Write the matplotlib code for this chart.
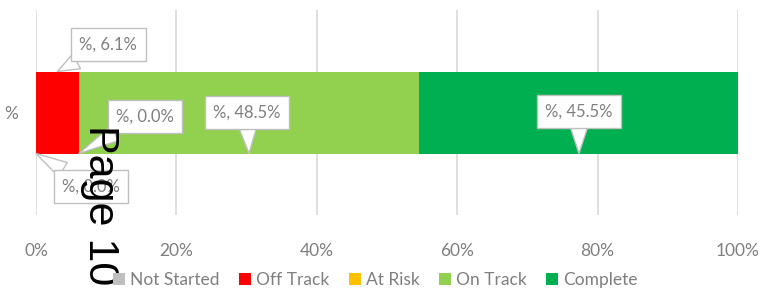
import matplotlib
matplotlib.use("Agg")
import matplotlib.pyplot as plt
import numpy as np

categories = ["%"]
series_names = ["Not Started", "Off Track", "At Risk", "On Track", "Complete"]
series_values = [0.0, 6.1, 0.0, 48.5, 45.5]
series_colors = ["#BFBFBF", "#FF0000", "#FFC000", "#92D050", "#00B050"]
x_ticks = [0, 20, 40, 60, 80, 100]
x_tick_labels = ["0%", "20%", "40%", "60%", "80%", "100%"]

plt.rcParams['font.family'] = ['Lato', 'DejaVu Sans']
grey_txt = "#7F7F7F"

fig = plt.figure(figsize=(7.66, 2.93), dpi=100)
ax = fig.add_axes([36/766, 1-215/293, (738-36)/766, (215-10)/293])

bar_h = 0.4
left = 0.0
lefts = []
for name, v, c in zip(series_names, series_values, series_colors):
    ax.barh(0, v, left=left, height=bar_h, color=c, label=name, zorder=2)
    lefts.append(left)
    left += v

ax.set_xlim(0, 100)
ax.set_ylim(-0.5, 0.5)
ax.set_xticks(x_ticks)
ax.set_xticklabels(x_tick_labels)
ax.set_yticks([0])
ax.set_yticklabels(categories)
ax.tick_params(axis='x', length=0, pad=20, labelsize=12.5, labelcolor=grey_txt)
ax.tick_params(axis='y', length=0, pad=13, labelsize=12.5, labelcolor=grey_txt)
for s in ax.spines.values():
    s.set_visible(False)
ax.grid(axis='x', color='#D9D9D9', linewidth=1.2, zorder=0)
ax.set_axisbelow(True)

# callouts: (series index, anchor position along bar: 'start'/'mid', bar edge 'top'/'bottom', offset px)
callouts = [
    (0, 'start', 'bottom', (55, -33)),
    (1, 'mid', 'top', (51, 27)),
    (2, 'start', 'bottom', (66, 37)),
    (3, 'mid', 'bottom', (-2, 41)),
    (4, 'mid', 'bottom', (0, 42)),
]
for idx, where, edge, off in callouts:
    v = series_values[idx]
    x = lefts[idx] + (v / 2 if where == 'mid' else 0)
    y = bar_h / 2 if edge == 'top' else -bar_h / 2
    ax.annotate(f"%, {v:.1f}%", xy=(x, y), xytext=off, textcoords='offset pixels',
                ha='center', va='center', fontsize=12, color=grey_txt, zorder=5,
                bbox=dict(boxstyle='square,pad=0.5', fc='white', ec='#BFBFBF', lw=1),
                arrowprops=dict(arrowstyle='wedge,tail_width=1.0', fc='white', ec='#BFBFBF',
                                lw=1, shrinkA=0, shrinkB=0))

leg = fig.legend(loc='center', bbox_to_anchor=(0.49, 1-280/293), ncol=5, frameon=False,
                 fontsize=12.5, handlelength=0.7, handleheight=0.7, handletextpad=0.3,
                 columnspacing=1.1)
for t in leg.get_texts():
    t.set_color(grey_txt)

fig.text(100/766, 1-205/293, "Page 10", rotation=270, ha='center', va='center',
         fontsize=31, color='black', family=['Liberation Sans', 'DejaVu Sans'])

fig.savefig("out.png", dpi=100)
